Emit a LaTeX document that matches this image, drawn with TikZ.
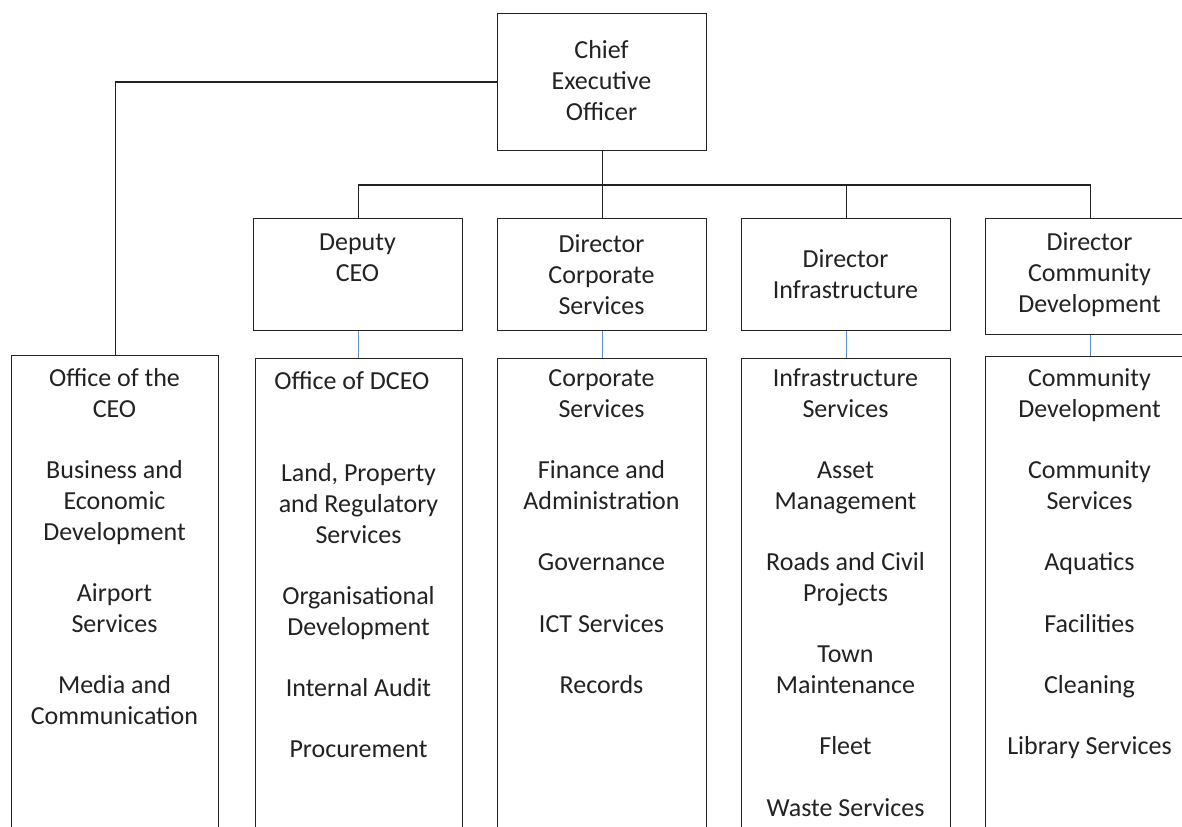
\documentclass[tikz,border=0pt]{standalone}
\usepackage{fontspec}
\setmainfont{Carlito}
\definecolor{linkblue}{HTML}{5B8BD0}
\definecolor{ink}{HTML}{222222}
\begin{document}
\begin{tikzpicture}[x=0.75pt,y=-0.75pt,
  box/.style={draw=ink, line width=0.9pt, inner sep=0pt, anchor=north west},
  txt/.style={anchor=north, inner sep=0pt, align=center, text=ink,
    font=\fontsize{19.5}{23}\selectfont},
  conn/.style={draw=ink, line width=0.9pt},
  bconn/.style={draw=linkblue, line width=0.8pt}]
\useasboundingbox (0,0) rectangle (1182,827);
\clip (0,0) rectangle (1182,827);
\fill[white] (0,0) rectangle (1182,827);
% boxes
\node[box, minimum width=209*0.75pt, minimum height=137*0.75pt] (ceo) at (497,13) {};
\node[box, minimum width=209*0.75pt, minimum height=112*0.75pt] (dep) at (253,218) {};
\node[box, minimum width=209*0.75pt, minimum height=112*0.75pt] (corp) at (497,218) {};
\node[box, minimum width=209*0.75pt, minimum height=112*0.75pt] (inf) at (741,218) {};
\node[box, minimum width=209*0.75pt, minimum height=116*0.75pt] (com) at (985,218) {};
\node[box, minimum width=207*0.75pt, minimum height=485*0.75pt] (office) at (11,355) {};
\node[box, minimum width=207*0.75pt, minimum height=482*0.75pt] (depL) at (255,358) {};
\node[box, minimum width=209*0.75pt, minimum height=482*0.75pt] (corpL) at (497,358) {};
\node[box, minimum width=209*0.75pt, minimum height=482*0.75pt] (infL) at (741,358) {};
\node[box, minimum width=209*0.75pt, minimum height=484*0.75pt] (comL) at (985,356) {};
% texts
\node[txt] (ceoT) at (601.5,37) {\strut Chief\\Executive\\Officer};
\node[txt] (depT) at (357.5,229) {\strut Deputy\\CEO};
\node[txt] (corpT) at (601.5,231) {\strut Director\\Corporate\\Services};
\node[txt] (infT) at (845.5,246) {\strut Director\\Infrastructure};
\node[txt] (comT) at (1089.5,229) {\strut Director\\Community\\Development};
\node[txt] (officeT) at (114.5,365) {\strut Office of the\\CEO\\[23pt]Business and\\Economic\\Development\\[23pt]Airport\\Services\\[23pt]Media and\\Communication};
\node[txt] (depLT) at (358.5,368) {\strut Office of DCEO\rule{10pt}{0pt}\\[46pt]Land, Property\\and Regulatory\\Services\\[23pt]Organisational\\Development\\[23pt]Internal Audit\\[23pt]Procurement};
\node[txt] (corpLT) at (601.5,365) {\strut Corporate\\Services\\[23pt]Finance and\\Administration\\[23pt]Governance\\[23pt]ICT Services\\[23pt]Records};
\node[txt] (infLT) at (845.5,365) {\strut Infrastructure\\Services\\[23pt]Asset\\Management\\[23pt]Roads and Civil\\Projects\\[23pt]Town\\Maintenance\\[23pt]Fleet\\[23pt]Waste Services};
\node[txt] (comLT) at (1089.5,365) {\strut Community\\Development\\[23pt]Community\\Services\\[23pt]Aquatics\\[23pt]Facilities\\[23pt]Cleaning\\[23pt]Library Services};
% connectors
\coordinate (busy) at (0,185);
\draw[conn] (ceo.west) -| (office.north);
\draw[conn] (ceo.south) -- (corp.north);
\draw[conn] (dep.north) |- (busy -| com.north) -- (com.north);
\draw[conn] (inf.north) -- (inf.north |- busy);
\draw[bconn] (dep.south) -- (dep.south |- depL.north);
\draw[bconn] (corp.south) -- (corpL.north);
\draw[bconn] (inf.south) -- (infL.north);
\draw[bconn] (com.south) -- (comL.north);
\end{tikzpicture}
\end{document}
